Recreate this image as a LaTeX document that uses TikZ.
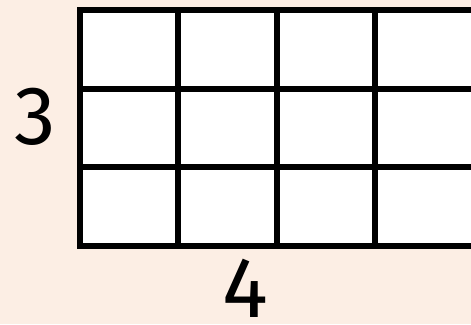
\documentclass[tikz,border=0pt]{standalone}
\usepackage{fontspec}
\setmainfont{Fira Sans}
\definecolor{bgpeach}{HTML}{FCEEE4}
\tikzset{
  gridline/.style={line width=6pt, black, line cap=rect},
  numlabel/.style={inner sep=0pt, text=black}
}
\begin{document}
\begin{tikzpicture}[x=1pt,y=-1pt]
  \fill[bgpeach] (0,0) rectangle (471,324);
  \useasboundingbox (0,0) rectangle (471,324);
  \fill[white] (79.5,10) rectangle (473.5,246);
  % horizontal lines
  \foreach \yy in {10,89,167,246} \draw[gridline] (79.5,\yy) -- (473.5,\yy);
  % vertical lines
  \foreach \xx in {79.5,178,276.5,375,473.5} \draw[gridline] (\xx,10) -- (\xx,246);
  \node[numlabel, font=\fontsize{83}{83}\selectfont] (three) at (35,117) {3};
  \node[numlabel, font=\fontsize{86}{86}\selectfont] (four) at (245,288) {4};
\end{tikzpicture}
\end{document}
